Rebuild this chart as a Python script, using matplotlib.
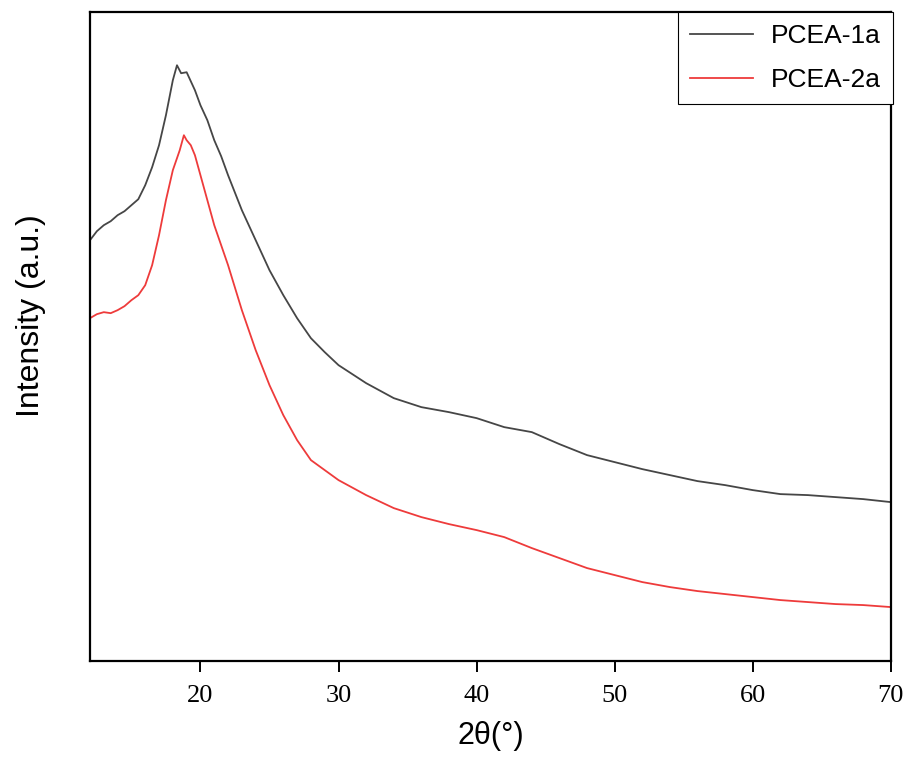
import matplotlib.pyplot as plt

# XRD patterns (arbitrary intensity units)
two_theta_1 = [12, 12.5, 13, 13.5, 14, 14.5, 15, 15.5, 16, 16.5, 17, 17.5, 18, 18.3, 18.6, 19,
               19.3, 19.6, 20, 20.5, 21, 21.5, 22, 23, 24, 25, 26, 27, 28, 29, 30, 32, 34,
               36, 38, 40, 42, 44, 46, 48, 50, 52, 54, 56, 58, 60, 62, 64, 66, 68, 70]
pcea_1a = [421, 430, 436, 440, 446, 450, 456, 462, 476, 494, 516, 546, 581, 596, 588, 589,
           580, 571, 556, 541, 521, 505, 486, 451, 421, 391, 366, 343, 323, 309, 296, 278, 263,
           254, 249, 243, 234, 229, 217, 206, 199, 192, 186, 180, 176, 171, 167, 166, 164, 162, 159]

two_theta_2 = [12, 12.5, 13, 13.5, 14, 14.5, 15, 15.5, 16, 16.5, 17, 17.5, 18, 18.5, 18.8, 19,
               19.3, 19.6, 20, 20.5, 21, 21.5, 22, 23, 24, 25, 26, 27, 28, 29, 30, 32, 34,
               36, 38, 40, 42, 44, 46, 48, 50, 52, 54, 56, 58, 60, 62, 64, 66, 68, 70]
pcea_2a = [343, 347, 349, 348, 351, 355, 361, 366, 376, 396, 426, 461, 491, 511, 526, 521,
           516, 506, 486, 461, 436, 416, 396, 351, 311, 276, 246, 221, 201, 191, 181, 166, 153,
           144, 137, 131, 124, 113, 103, 93, 86, 79, 74, 70, 67, 64, 61, 59, 57, 56, 54]

fig = plt.figure(figsize=(9.09, 7.66), dpi=100)
ax = fig.add_axes([0.099, 0.137, 0.881, 0.847])

ax.plot(two_theta_1, pcea_1a, color='#464646', lw=1.3, label='PCEA-1a')
ax.plot(two_theta_2, pcea_2a, color='#ee3b3b', lw=1.3, label='PCEA-2a')

ax.set_xlim(12, 70)
ax.set_ylim(0, 649)
ax.set_xticks([20, 30, 40, 50, 60, 70])
ax.set_yticks([])
ax.tick_params(axis='x', direction='out', length=8, width=1.4, pad=9)
for lab in ax.get_xticklabels():
    lab.set_fontfamily('Liberation Serif')
    lab.set_fontsize(19)
for sp in ax.spines.values():
    sp.set_linewidth(1.6)

ax.set_xlabel('2θ(°)', fontsize=22, family='Liberation Sans', labelpad=10)
ax.set_ylabel('Intensity (a.u.)', fontsize=23, family='Liberation Sans')
ax.yaxis.set_label_coords(-0.055, 0.533)

leg = ax.legend(loc='upper right', bbox_to_anchor=(1.003, 1.0), borderaxespad=0,
                prop={'family': 'Liberation Sans', 'size': 19}, handlelength=2.4,
                fancybox=False, framealpha=1, edgecolor='black', borderpad=0.45,
                labelspacing=0.75, handletextpad=0.7)
leg.get_frame().set_linewidth(0.8)

fig.savefig('out.png', dpi=100)
